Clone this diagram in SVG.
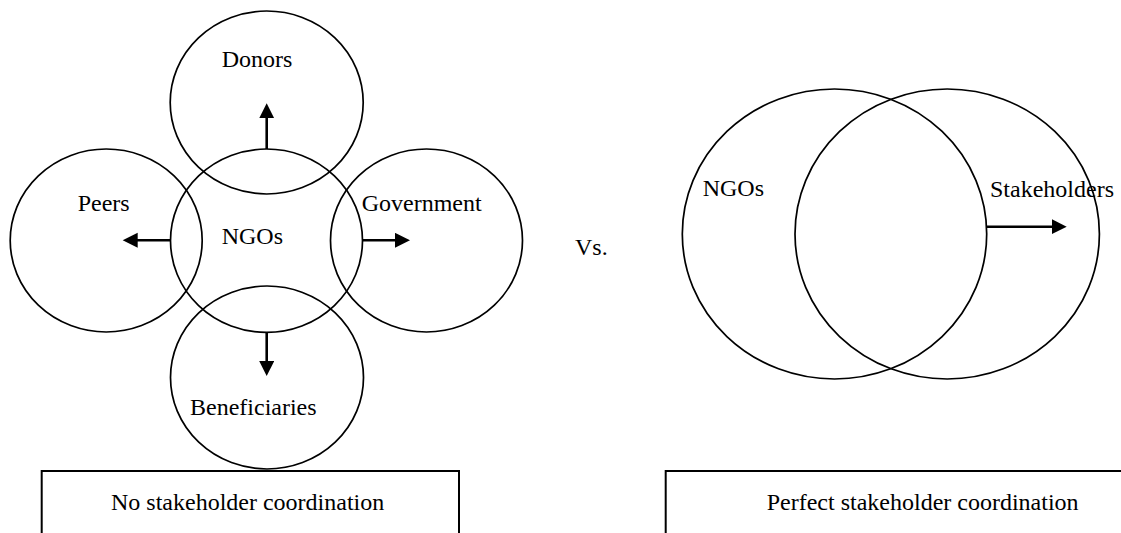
<svg xmlns="http://www.w3.org/2000/svg" width="1121" height="533" viewBox="0 0 1121 533">
<style>
.c{fill:none;stroke:#000;stroke-width:1.7}
.b{fill:none;stroke:#000;stroke-width:2}
.a{fill:none;stroke:#000;stroke-width:2.6;marker-end:url(#ah)}
text{font-family:"Liberation Serif","Times New Roman",serif;font-size:24px;fill:#000}
</style>
<defs>
<marker id="ah" markerUnits="userSpaceOnUse" markerWidth="16" markerHeight="16" refX="5" refY="7.5" orient="auto">
<path d="M0,0 L15,7.5 L0,15 Z" fill="#000"/>
</marker>
</defs>
<rect width="1121" height="533" fill="#fff"/>
<g id="donors"><ellipse class="c" cx="266.7" cy="102.5" rx="96.5" ry="91.5"/><text x="221.7" y="67">Donors</text></g>
<g id="peers"><ellipse class="c" cx="106.2" cy="240.5" rx="96" ry="91.5"/><text x="77.7" y="211">Peers</text></g>
<g id="government"><ellipse class="c" cx="426.5" cy="240.5" rx="96" ry="91.5"/><text x="361.7" y="211">Government</text></g>
<g id="beneficiaries"><ellipse class="c" cx="267" cy="377.5" rx="96.5" ry="91.5"/><text x="190" y="415">Beneficiaries</text></g>
<g id="ngos"><ellipse class="c" cx="266.5" cy="240.7" rx="96" ry="91.7"/><text x="221.7" y="244">NGOs</text></g>
<g id="box-left"><rect class="b" x="41.7" y="471" width="417.3" height="80"/><text x="111" y="510">No stakeholder coordination</text></g>
<g id="vs"><text x="575" y="255">Vs.</text></g>
<g id="ngos-right"><ellipse class="c" cx="834.5" cy="234" rx="152.2" ry="145"/><text x="702.7" y="196">NGOs</text></g>
<g id="stakeholders"><ellipse class="c" cx="947.2" cy="234" rx="152.2" ry="145"/><text x="990" y="197">Stakeholders</text></g>
<g id="box-right"><rect class="b" x="665.7" y="471" width="480" height="80"/><text x="766.7" y="510">Perfect stakeholder coordination</text></g>
<g id="connectors">
<line class="a" x1="266.7" y1="149" x2="266.7" y2="113.3"/>
<line class="a" x1="170.7" y1="240.3" x2="132.7" y2="240.3"/>
<line class="a" x1="362.3" y1="240.3" x2="400" y2="240.3"/>
<line class="a" x1="266.7" y1="332.3" x2="266.7" y2="366"/>
<line class="a" x1="986.7" y1="226.7" x2="1056.7" y2="226.7"/>
</g>
</svg>
